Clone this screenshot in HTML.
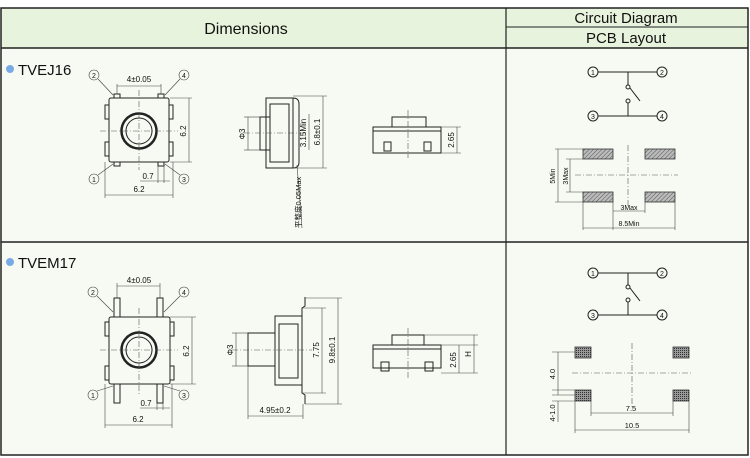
<!DOCTYPE html>
<html><head><meta charset="utf-8"><style>
html,body{margin:0;padding:0;background:#fff}
svg{display:block}
text{font-family:"Liberation Sans","Noto Sans CJK SC",sans-serif;fill:#111}
.l{stroke:#222;stroke-width:1;fill:none}
.t{stroke:#444;stroke-width:0.6;fill:none}
.c{stroke:#555;stroke-width:0.6;fill:none;stroke-dasharray:6 2 1 2}
.s{font-size:8px}
</style></head><body>
<svg width="750" height="458" viewBox="0 0 750 458" xmlns="http://www.w3.org/2000/svg">
<defs>
<pattern id="h" width="3" height="3" patternUnits="userSpaceOnUse" patternTransform="rotate(45)"><rect width="3" height="3" fill="#bbb"/><line x1="0" y1="0" x2="0" y2="3" stroke="#555" stroke-width="1"/></pattern>
<pattern id="x" width="2" height="2" patternUnits="userSpaceOnUse"><rect width="2" height="2" fill="#999"/><rect width="1" height="1" fill="#333"/></pattern>
<marker id="a" markerWidth="6" markerHeight="6" refX="5" refY="3" orient="auto"><path d="M0,1 L5,3 L0,5" fill="#333"/></marker>
</defs>
<!-- table -->
<rect x="1" y="8" width="747" height="40" fill="#e7f3dc"/>
<rect x="1" y="48" width="747" height="407" fill="#f7faf2"/>
<rect x="1" y="8" width="747" height="447" fill="none" stroke="#222" stroke-width="1.5"/>
<line x1="1" y1="48" x2="748" y2="48" stroke="#222" stroke-width="1.5"/>
<line x1="506" y1="8" x2="506" y2="455" stroke="#222" stroke-width="1.2"/>
<line x1="506" y1="27" x2="748" y2="27" stroke="#222" stroke-width="1"/>
<line x1="1" y1="242" x2="748" y2="242" stroke="#222" stroke-width="1.5"/>
<text x="246" y="34" font-size="16" text-anchor="middle">Dimensions</text>
<text x="626" y="23" font-size="15" text-anchor="middle">Circuit Diagram</text>
<text x="626" y="43" font-size="15" text-anchor="middle">PCB Layout</text>

<!-- ROW 1 -->
<circle cx="10" cy="69" r="4" fill="#7aaae6"/>
<text x="18" y="75" font-size="15">TVEJ16</text>
<!-- top view -->
<rect class="l" x="109" y="98" width="60" height="64" rx="2"/>
<rect class="l" x="105" y="105" width="4" height="14"/><rect class="l" x="105" y="142" width="4" height="14"/>
<rect class="l" x="169" y="105" width="4" height="14"/><rect class="l" x="169" y="142" width="4" height="14"/>
<rect class="l" x="114" y="94" width="6" height="4"/><rect class="l" x="158" y="94" width="6" height="4"/>
<rect class="l" x="114" y="162" width="6" height="4"/><rect class="l" x="158" y="162" width="6" height="4"/>
<circle cx="139" cy="131" r="17.5" fill="none" stroke="#222" stroke-width="2.5"/>
<circle cx="139" cy="131" r="13" class="l"/>
<line class="c" x1="100" y1="131" x2="178" y2="131"/><line class="c" x1="139" y1="90" x2="139" y2="170"/>
<line class="t" x1="117" y1="84" x2="117" y2="94"/><line class="t" x1="161" y1="84" x2="161" y2="94"/>
<line class="t" x1="117" y1="86" x2="161" y2="86"/>
<text class="s" x="139" y="82" text-anchor="middle">4±0.05</text>
<line class="t" x1="170" y1="98" x2="192" y2="98"/><line class="t" x1="170" y1="162" x2="192" y2="162"/>
<line class="t" x1="189" y1="98" x2="189" y2="162"/>
<text class="s" transform="translate(186,131) rotate(-90)" text-anchor="middle">6.2</text>
<line class="t" x1="105" y1="162" x2="105" y2="198"/><line class="t" x1="173" y1="162" x2="173" y2="198"/>
<line class="t" x1="105" y1="195" x2="173" y2="195"/>
<text class="s" x="139" y="192" text-anchor="middle">6.2</text>
<line class="t" x1="158" y1="166" x2="158" y2="183"/><line class="t" x1="164" y1="166" x2="164" y2="183"/>
<line class="t" x1="140" y1="181" x2="170" y2="181"/>
<text class="s" x="148" y="179" text-anchor="middle">0.7</text>
<g class="t"><circle cx="94" cy="75" r="5"/><circle cx="184" cy="75" r="5"/><circle cx="94" cy="179" r="5"/><circle cx="184" cy="179" r="5"/>
<line x1="98" y1="79" x2="113" y2="95"/><line x1="180" y1="79" x2="165" y2="95"/><line x1="98" y1="175" x2="113" y2="164"/><line x1="180" y1="175" x2="165" y2="164"/></g>
<g font-size="7" text-anchor="middle"><text x="94" y="78">2</text><text x="184" y="78">4</text><text x="94" y="182">1</text><text x="184" y="182">3</text></g>
<!-- side view 1 -->
<rect class="l" x="266" y="98" width="27" height="70"/>
<rect class="l" x="270" y="104" width="19" height="58"/>
<rect class="l" x="260" y="117" width="10" height="33"/>
<path class="l" d="M293,98 Q299,98 299,104 L299,162 Q299,168 293,168"/>
<line class="c" x1="244" y1="133" x2="305" y2="133"/>
<line class="t" x1="244" y1="117" x2="260" y2="117"/><line class="t" x1="244" y1="150" x2="260" y2="150"/>
<line class="t" x1="248" y1="117" x2="248" y2="150"/>
<text class="s" transform="translate(245,134) rotate(-90)" text-anchor="middle">Φ3</text>
<line class="t" x1="293" y1="96" x2="327" y2="96"/><line class="t" x1="293" y1="168" x2="327" y2="168"/>
<line class="t" x1="323" y1="96" x2="323" y2="168"/><line class="t" x1="309" y1="114" x2="309" y2="150"/>
<text class="s" transform="translate(306,133) rotate(-90)" text-anchor="middle">3.15Min</text>
<text class="s" transform="translate(320,132) rotate(-90)" text-anchor="middle">6.8±0.1</text>
<line class="t" x1="297" y1="165" x2="302" y2="228"/>
<text font-size="7.5" transform="translate(301,228) rotate(-90)">平整度0.05Max</text>
<!-- front view 1 -->
<rect class="l" x="373" y="127" width="68" height="26"/>
<rect class="l" x="392" y="117" width="34" height="10"/>
<line class="l" x1="373" y1="131" x2="441" y2="131"/>
<rect class="l" x="384" y="142" width="7" height="9"/><rect class="l" x="424" y="142" width="7" height="9"/>
<line class="c" x1="408" y1="110" x2="408" y2="158"/>
<line class="t" x1="441" y1="127" x2="461" y2="127"/><line class="t" x1="441" y1="153" x2="461" y2="153"/>
<line class="t" x1="457" y1="127" x2="457" y2="153"/>
<text class="s" transform="translate(454,140) rotate(-90)" text-anchor="middle">2.65</text>
<!-- circuit 1 -->
<g class="l"><circle cx="593" cy="72" r="5"/><circle cx="662" cy="72" r="5"/><circle cx="593" cy="116" r="5"/><circle cx="662" cy="116" r="5"/>
<line x1="598" y1="72" x2="657" y2="72"/><line x1="598" y1="116" x2="657" y2="116"/>
<line x1="628" y1="72" x2="628" y2="85"/><line x1="628" y1="103" x2="628" y2="116"/>
<circle cx="628" cy="87" r="2"/><circle cx="628" cy="101" r="2"/><line x1="630" y1="88" x2="640" y2="101"/></g>
<g font-size="7" text-anchor="middle"><text x="593" y="75">1</text><text x="662" y="75">2</text><text x="593" y="119">3</text><text x="662" y="119">4</text></g>
<!-- pcb 1 -->
<g stroke="#333" stroke-width="0.8" fill="url(#h)"><rect x="583" y="149" width="30" height="10"/><rect x="645" y="149" width="30" height="10"/><rect x="583" y="192" width="30" height="10"/><rect x="645" y="192" width="30" height="10"/></g>
<line class="c" x1="628" y1="145" x2="628" y2="206"/><line class="c" x1="575" y1="175" x2="678" y2="175"/>
<line class="t" x1="555" y1="149" x2="583" y2="149"/><line class="t" x1="555" y1="202" x2="583" y2="202"/>
<line class="t" x1="566" y1="159" x2="583" y2="159"/><line class="t" x1="566" y1="192" x2="583" y2="192"/>
<line class="t" x1="558" y1="149" x2="558" y2="202"/><line class="t" x1="570" y1="159" x2="570" y2="192"/>
<text font-size="7" transform="translate(555,176) rotate(-90)" text-anchor="middle">5Min</text>
<text font-size="7" transform="translate(568,176) rotate(-90)" text-anchor="middle">3Max</text>
<line class="t" x1="613" y1="202" x2="613" y2="230"/><line class="t" x1="645" y1="202" x2="645" y2="213"/>
<line class="t" x1="583" y1="202" x2="583" y2="230"/><line class="t" x1="675" y1="202" x2="675" y2="230"/>
<line class="t" x1="613" y1="211" x2="645" y2="211"/><line class="t" x1="583" y1="228" x2="675" y2="228"/>
<text font-size="7" x="629" y="210" text-anchor="middle">3Max</text>
<text font-size="7" x="629" y="226" text-anchor="middle">8.5Min</text>

<!-- ROW 2 -->
<circle cx="10" cy="262" r="4" fill="#7aaae6"/>
<text x="18" y="268" font-size="15">TVEM17</text>
<rect class="l" x="109" y="317" width="61" height="67" rx="2"/>
<rect class="l" x="105" y="322" width="4" height="14"/><rect class="l" x="105" y="366" width="4" height="14"/>
<rect class="l" x="170" y="322" width="4" height="14"/><rect class="l" x="170" y="366" width="4" height="14"/>
<rect class="l" x="114" y="298" width="6" height="19"/><rect class="l" x="157" y="298" width="6" height="19"/>
<rect class="l" x="114" y="384" width="6" height="19"/><rect class="l" x="157" y="384" width="6" height="19"/>
<circle cx="139" cy="350" r="17.5" fill="none" stroke="#222" stroke-width="2.5"/>
<circle cx="139" cy="350" r="13" class="l"/>
<line class="c" x1="100" y1="350" x2="178" y2="350"/><line class="c" x1="139" y1="308" x2="139" y2="395"/>
<line class="t" x1="117" y1="283" x2="117" y2="298"/><line class="t" x1="160" y1="283" x2="160" y2="298"/>
<line class="t" x1="117" y1="286" x2="160" y2="286"/>
<text class="s" x="139" y="283" text-anchor="middle">4±0.05</text>
<line class="t" x1="170" y1="317" x2="196" y2="317"/><line class="t" x1="170" y1="384" x2="196" y2="384"/>
<line class="t" x1="192" y1="317" x2="192" y2="384"/>
<text class="s" transform="translate(189,351) rotate(-90)" text-anchor="middle">6.2</text>
<line class="t" x1="105" y1="384" x2="105" y2="428"/><line class="t" x1="172" y1="384" x2="172" y2="428"/>
<line class="t" x1="105" y1="425" x2="172" y2="425"/>
<text class="s" x="138" y="422" text-anchor="middle">6.2</text>
<line class="t" x1="157" y1="403" x2="157" y2="410"/><line class="t" x1="163" y1="403" x2="163" y2="410"/>
<line class="t" x1="140" y1="408" x2="170" y2="408"/>
<text class="s" x="146" y="406" text-anchor="middle">0.7</text>
<g class="t"><circle cx="93" cy="292" r="5"/><circle cx="184" cy="292" r="5"/><circle cx="93" cy="395" r="5"/><circle cx="184" cy="395" r="5"/>
<line x1="97" y1="296" x2="113" y2="312"/><line x1="180" y1="296" x2="164" y2="312"/><line x1="97" y1="391" x2="113" y2="386"/><line x1="180" y1="391" x2="164" y2="386"/></g>
<g font-size="7" text-anchor="middle"><text x="93" y="295">2</text><text x="184" y="295">4</text><text x="93" y="398">1</text><text x="184" y="398">3</text></g>
<!-- side view 2 -->
<rect class="l" x="275" y="316" width="27" height="69"/>
<rect class="l" x="279" y="324" width="19" height="54"/>
<rect class="l" x="248" y="333" width="27" height="33"/>
<path class="l" d="M302,316 L302,308 L305,306 L305,297 M302,385 L302,393 L305,395 L305,404"/>
<line class="c" x1="232" y1="350" x2="312" y2="350"/>
<line class="t" x1="232" y1="333" x2="248" y2="333"/><line class="t" x1="232" y1="366" x2="248" y2="366"/>
<line class="t" x1="236" y1="333" x2="236" y2="366"/>
<text class="s" transform="translate(233,350) rotate(-90)" text-anchor="middle">Φ3</text>
<line class="t" x1="302" y1="308" x2="326" y2="308"/><line class="t" x1="302" y1="393" x2="326" y2="393"/>
<line class="t" x1="322" y1="308" x2="322" y2="393"/>
<line class="t" x1="305" y1="298" x2="342" y2="298"/><line class="t" x1="305" y1="404" x2="342" y2="404"/>
<line class="t" x1="338" y1="298" x2="338" y2="404"/>
<text class="s" transform="translate(319,350) rotate(-90)" text-anchor="middle">7.75</text>
<text class="s" transform="translate(335,350) rotate(-90)" text-anchor="middle">9.8±0.1</text>
<line class="t" x1="248" y1="366" x2="248" y2="419"/><line class="t" x1="303" y1="404" x2="303" y2="419"/>
<line class="t" x1="248" y1="416" x2="303" y2="416"/>
<text class="s" x="275" y="413" text-anchor="middle">4.95±0.2</text>
<!-- front view 2 -->
<rect class="l" x="373" y="345" width="68" height="23"/>
<rect class="l" x="392" y="335" width="32" height="10"/>
<line class="l" x1="373" y1="349" x2="441" y2="349"/>
<rect class="l" x="381" y="362" width="8" height="9"/><rect class="l" x="425" y="362" width="8" height="9"/>
<line class="c" x1="408" y1="328" x2="408" y2="378"/>
<line class="t" x1="441" y1="345" x2="478" y2="345"/><line class="t" x1="441" y1="373" x2="478" y2="373"/>
<line class="t" x1="424" y1="335" x2="478" y2="335"/>
<line class="t" x1="459" y1="345" x2="459" y2="373"/><line class="t" x1="474" y1="335" x2="474" y2="373"/>
<text class="s" transform="translate(456,360) rotate(-90)" text-anchor="middle">2.65</text>
<text class="s" transform="translate(471,354) rotate(-90)" text-anchor="middle">H</text>
<!-- circuit 2 -->
<g class="l"><circle cx="593" cy="273" r="5"/><circle cx="662" cy="273" r="5"/><circle cx="593" cy="315" r="5"/><circle cx="662" cy="315" r="5"/>
<line x1="598" y1="273" x2="657" y2="273"/><line x1="598" y1="315" x2="657" y2="315"/>
<line x1="628" y1="273" x2="628" y2="285"/><line x1="628" y1="302" x2="628" y2="315"/>
<circle cx="628" cy="287" r="2"/><circle cx="628" cy="300" r="2"/><line x1="630" y1="288" x2="640" y2="301"/></g>
<g font-size="7" text-anchor="middle"><text x="593" y="276">1</text><text x="662" y="276">2</text><text x="593" y="318">3</text><text x="662" y="318">4</text></g>
<!-- pcb 2 -->
<g stroke="#333" stroke-width="0.8" fill="url(#x)"><rect x="575" y="347" width="16" height="11"/><rect x="673" y="347" width="16" height="11"/><rect x="575" y="390" width="16" height="11"/><rect x="673" y="390" width="16" height="11"/></g>
<line class="c" x1="632" y1="343" x2="632" y2="408"/><line class="c" x1="572" y1="373" x2="692" y2="373"/>
<line class="t" x1="552" y1="352" x2="575" y2="352"/><line class="t" x1="552" y1="395" x2="575" y2="395"/>
<line class="t" x1="552" y1="390" x2="575" y2="390"/><line class="t" x1="552" y1="401" x2="575" y2="401"/>
<line class="t" x1="558" y1="352" x2="558" y2="395"/><line class="t" x1="558" y1="401" x2="558" y2="422"/>
<text font-size="7.5" transform="translate(555,374) rotate(-90)" text-anchor="middle">4.0</text>
<text font-size="7.5" transform="translate(555,413) rotate(-90)" text-anchor="middle">4-1.0</text>
<line class="t" x1="591" y1="401" x2="591" y2="416"/><line class="t" x1="673" y1="401" x2="673" y2="416"/>
<line class="t" x1="575" y1="401" x2="575" y2="433"/><line class="t" x1="689" y1="401" x2="689" y2="433"/>
<line class="t" x1="591" y1="413" x2="673" y2="413"/><line class="t" x1="575" y1="430" x2="689" y2="430"/>
<text font-size="7.5" x="631" y="411" text-anchor="middle">7.5</text>
<text font-size="7.5" x="632" y="428" text-anchor="middle">10.5</text>
</svg>
</body></html>
